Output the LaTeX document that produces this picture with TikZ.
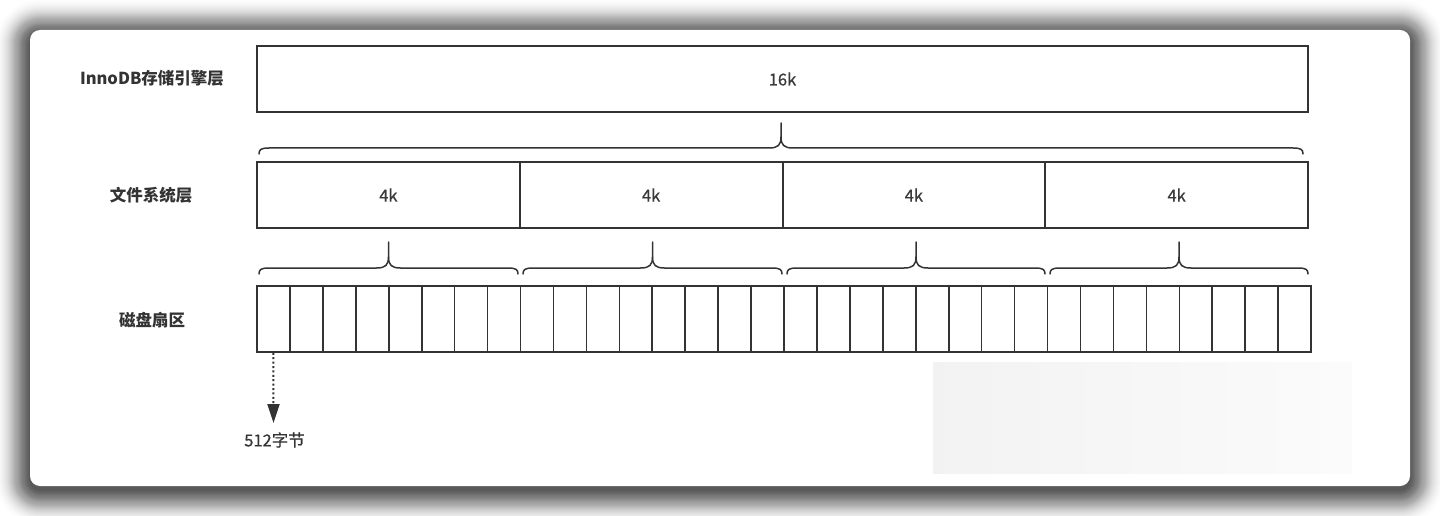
\documentclass[tikz,border=0pt]{standalone}
\usepackage{fontspec}
\setmainfont{Noto Sans CJK SC}
\newfontfamily\medfont{Noto Sans CJK SC}[FakeBold=0.6]
\usetikzlibrary{arrows.meta,calc}
\definecolor{lc}{HTML}{333333}
\definecolor{tc}{HTML}{3a3a3a}
\newcommand\mybrace[4]{% x1, x2, ytip, yline
  \pgfmathsetmacro\bm{(#1+#2)/2}%
  \draw[brc] (#1,#4+6) .. controls (#1,#4+1.5) and (#1+2,#4) .. (#1+10,#4)
    -- (\bm-12,#4) .. controls (\bm-3,#4) and (\bm,#4-3) .. (\bm,#4-11)
    -- (\bm,#3);
  \draw[brc] (#2,#4+6) .. controls (#2,#4+1.5) and (#2-2,#4) .. (#2-10,#4)
    -- (\bm+12,#4) .. controls (\bm+3,#4) and (\bm,#4-3) .. (\bm,#4-11);
}
\begin{document}
\begin{tikzpicture}[x=1pt,y=-1pt,
  box/.style={draw=lc, line width=2pt, minimum height=66pt, inner sep=0pt,
    text=tc, font=\medfont\fontsize{16.5}{19}\selectfont},
  cell/.style={draw=lc, line width=1.6pt, minimum width=32.94pt,
    minimum height=66pt, inner sep=0pt},
  lbl/.style={text=lc, inner sep=0pt, font=\fontsize{16.5}{20}\selectfont\bfseries},
  brc/.style={draw=lc, line width=1.5pt, line cap=round},
]
\useasboundingbox (0,0) rectangle (1440,516);
\fill[white] (0,0) rectangle (1440,516);
% shadow
\foreach \i [evaluate=\i as \r using 10+\i,
             evaluate=\i as \op using 0.05*(1-\i/37)] in {1,...,36}
  \fill[black, opacity=\op, rounded corners=\r pt]
    (30-\i,30-\i+4) rectangle (1410+\i,486+\i+4);
% card
\fill[white, rounded corners=10pt] (30,30) rectangle (1410,486);
% faint patch
\shade[left color=black!5, right color=black!1.5] (933,362) rectangle (1352,473);

% labels
\node[lbl] (l1) at (152,78) {InnoDB存储引擎层};
\node[lbl] (l2) at (151,195) {文件系统层};
\node[lbl] (l3) at (152,320) {磁盘扇区};

% 16k
\node[box, minimum width=1051pt] (innodb) at (782.5,79) {16k};
% 4k boxes
\foreach \i in {1,...,4}
  \node[box, minimum width=262.75pt] (f\i) at ({257+262.75*(\i-0.5)},195) {4k};
% sectors
\foreach \i in {1,...,32}
  \node[cell] (s\i) at ({257+32.94*(\i-0.5)},319) {};

% braces
\mybrace{259}{1303}{123}{148}
\mybrace{259}{518}{242}{268}
\mybrace{523}{782}{242}{268}
\mybrace{787}{1045}{242}{268}
\mybrace{1050}{1308}{242}{268}

% arrow
\coordinate (tip) at (273.5,423);
\draw[lc, line width=2pt, dash pattern=on 2pt off 2.4pt,
  -{Triangle[length=19pt,width=12pt]}] (s1.south) -- (tip);
\node[text=lc, inner sep=0pt, font=\medfont\fontsize{16.5}{19}\selectfont] (bytes) at (274.5,440) {512字节};
\end{tikzpicture}
\end{document}
